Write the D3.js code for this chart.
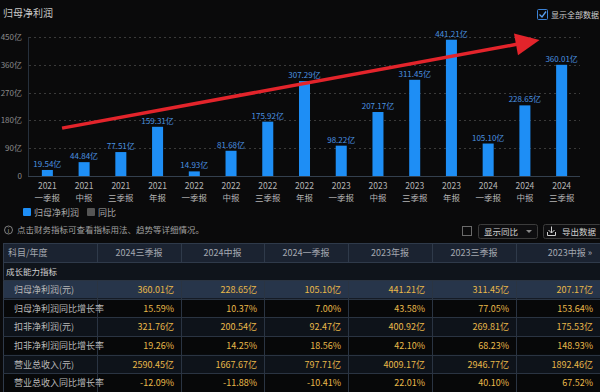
<!DOCTYPE html>
<html><head><meta charset="utf-8">
<script src="https://cdn.jsdelivr.net/npm/d3@7"></script>
<style>
html,body{margin:0;padding:0;background:#0a0a0b;}
svg{display:block;font-family:"Noto Sans CJK SC","Noto Sans",sans-serif;}
</style></head>
<body>
<svg id="c" width="600" height="392"></svg>
<script>
// ---------- data ----------
const years    = ["2021","2021","2021","2021","2022","2022","2022","2022","2023","2023","2023","2023","2024","2024","2024"];
const periods  = ["一季报","中报","三季报","年报","一季报","中报","三季报","年报","一季报","中报","三季报","年报","一季报","中报","三季报"];
const netProfit = [19.54,44.84,77.51,159.31,14.93,81.68,175.92,307.29,98.22,207.17,311.45,441.21,105.10,228.65,360.01];
const yTicks = [0,90,180,270,360,450];
const trendFrom = {i:0.9, v:155};
const trendTo   = {i:13.9, v:440};

const tableHeaders = ["科目/年度","2024三季报","2024中报","2024一季报","2023年报","2023三季报","2023中报 »"];
const groupLabel = "成长能力指标";
const rowLabels = ["归母净利润(元)","归母净利润同比增长率","扣非净利润(元)","扣非净利润同比增长率","营业总收入(元)","营业总收入同比增长率"];
const rowNetProfit   = ["360.01亿","228.65亿","105.10亿","441.21亿","311.45亿","207.17亿"];
const rowNetGrowth   = ["15.59%","10.37%","7.00%","43.58%","77.05%","153.64%"];
const rowDeducted    = ["321.76亿","200.54亿","92.47亿","400.92亿","269.81亿","175.53亿"];
const rowDedGrowth   = ["19.26%","14.25%","18.56%","42.10%","68.23%","148.93%"];
const rowRevenue     = ["2590.45亿","1667.67亿","797.71亿","4009.17亿","2946.77亿","1892.46亿"];
const rowRevGrowth   = ["-12.09%","-11.88%","-10.41%","22.01%","40.10%","67.52%"];
const tableRows = [rowNetProfit,rowNetGrowth,rowDeducted,rowDedGrowth,rowRevenue,rowRevGrowth];

// ---------- chart ----------
const svg = d3.select("#c");
svg.append("rect").attr("width",600).attr("height",392).attr("fill","#0a0a0b");

const x = d3.scaleBand().domain(d3.range(netProfit.length)).range([29,580]).paddingInner(0.7).paddingOuter(0.35);
const xi = d3.scaleLinear().domain([0,netProfit.length]).range([29,580]);
const y = d3.scaleLinear().domain([0,450]).range([176,37]);

svg.append("text").attr("x",3).attr("y",17).attr("fill","#c8c8c8").attr("font-size",10).text("归母净利润");

// top-right checkbox
const cb = svg.append("g");
cb.append("rect").attr("x",537.5).attr("y",9.5).attr("width",10).attr("height",10).attr("rx",1).attr("fill","none").attr("stroke","#3b82d6");
cb.append("path").attr("d","M539.5,14.5 L542,17 L546,11.5").attr("fill","none").attr("stroke","#5aa0f0").attr("stroke-width",1.3);
cb.append("text").attr("x",551).attr("y",18).attr("fill","#d0d0d0").attr("font-size",8).text("显示全部数据");

// grid
svg.append("g").selectAll("line").data(yTicks.filter(d=>d>0)).join("line")
  .attr("x1",29).attr("x2",580).attr("y1",d=>Math.round(y(d))+0.5).attr("y2",d=>Math.round(y(d))+0.5)
  .attr("stroke","#3a3a3a").attr("stroke-dasharray","2,3");
svg.append("line").attr("x1",28.5).attr("x2",28.5).attr("y1",37).attr("y2",176).attr("stroke","#26303c");
svg.append("line").attr("x1",28).attr("x2",580).attr("y1",176.5).attr("y2",176.5).attr("stroke","#34404e");

// y labels
svg.append("g").selectAll("text").data(yTicks).join("text")
  .attr("x",22).attr("y",d=>y(d)+3).attr("text-anchor","end").attr("fill","#8c8c8c").attr("font-size",8)
  .text(d=>d===0?"0":d+"亿");

// bars
svg.append("g").selectAll("rect").data(netProfit).join("rect")
  .attr("x",(d,i)=>x(i)).attr("width",x.bandwidth())
  .attr("y",d=>y(d)).attr("height",d=>y(0)-y(d)).attr("fill","#1e8ef5");
svg.append("g").selectAll("text").data(netProfit).join("text")
  .attr("x",(d,i)=>x(i)+x.bandwidth()/2).attr("y",d=>y(d)-3).attr("text-anchor","middle")
  .attr("fill","#4a92e0").attr("font-size",8).text(d=>d.toFixed(2)+"亿");

// x labels
const xl = svg.append("g").selectAll("g").data(years).join("g")
  .attr("transform",(d,i)=>`translate(${x(i)+x.bandwidth()/2},0)`);
xl.append("text").attr("y",189).attr("text-anchor","middle").attr("fill","#b4b4b4").attr("font-size",8.5).text(d=>d);
xl.append("text").attr("y",200.5).attr("text-anchor","middle").attr("fill","#b4b4b4").attr("font-size",8.5).text((d,i)=>periods[i]);

// red arrow
const ax0 = xi(trendFrom.i), ay0 = y(trendFrom.v), ax1 = xi(trendTo.i), ay1 = y(trendTo.v);
const ang = Math.atan2(ay1-ay0, ax1-ax0);
const hl = 24, hw = 11;
const bx = ax1 - hl*Math.cos(ang), by = ay1 - hl*Math.sin(ang);
svg.append("line").attr("x1",ax0).attr("y1",ay0).attr("x2",bx+2*Math.cos(ang)).attr("y2",by+2*Math.sin(ang))
  .attr("stroke","#e3242b").attr("stroke-width",3.5);
svg.append("path").attr("d",`M${ax1},${ay1} L${bx - hw*Math.sin(ang)},${by + hw*Math.cos(ang)} L${bx + hw*Math.sin(ang)},${by - hw*Math.cos(ang)} Z`)
  .attr("fill","#e3242b");

// legend
svg.append("rect").attr("x",23).attr("y",208).attr("width",8).attr("height",8).attr("rx",1).attr("fill","#1e8ef5");
svg.append("text").attr("x",34).attr("y",215.5).attr("fill","#a8a8a8").attr("font-size",9).text("归母净利润");
svg.append("rect").attr("x",87).attr("y",208).attr("width",8).attr("height",8).attr("rx",1).attr("fill","#555");
svg.append("text").attr("x",98).attr("y",215.5).attr("fill","#a8a8a8").attr("font-size",9).text("同比");

// info line
svg.append("circle").attr("cx",8.5).attr("cy",230).attr("r",4).attr("fill","none").attr("stroke","#9a9a9a").attr("stroke-width",0.8);
svg.append("text").attr("x",8.5).attr("y",232.5).attr("text-anchor","middle").attr("fill","#9a9a9a").attr("font-size",6.5).text("i");
svg.append("text").attr("x",17).attr("y",233).attr("fill","#a0a0a0").attr("font-size",8.5).text("点击财务指标可查看指标用法、趋势等详细情况。");

// controls
svg.append("rect").attr("x",462.5).attr("y",226.5).attr("width",9).attr("height",9).attr("fill","none").attr("stroke","#6a6a6a");
svg.append("rect").attr("x",478.5).attr("y",224.5).attr("width",59).attr("height",14).attr("rx",2).attr("fill","#0e0e10").attr("stroke","#3c3c3c");
svg.append("text").attr("x",484).attr("y",235).attr("fill","#d0d0d0").attr("font-size",8.5).text("显示同比");
svg.append("path").attr("d","M526,230 L532,230 L529,233 Z").attr("fill","#888");
svg.append("rect").attr("x",543.5).attr("y",224.5).attr("width",58).attr("height",14).attr("rx",2).attr("fill","#0e0e10").attr("stroke","#3c3c3c");
svg.append("path").attr("d","M551.5,226.5 L551.5,233 M548.5,230 L551.5,233 L554.5,230 M547.5,232 L547.5,235.5 L555.5,235.5 L555.5,232")
  .attr("fill","none").attr("stroke","#d0d0d0").attr("stroke-width",1);
svg.append("text").attr("x",562).attr("y",235).attr("fill","#d0d0d0").attr("font-size",8.5).text("导出数据");

// ---------- table ----------
const colEdges = [3,97,181,264,348,432,516,600];
const hdrY = 243, hdrH = 19, grpH = 18;
const rowY0 = hdrY + hdrH + grpH;
const rowH = (392 - rowY0) / tableRows.length;
const tbl = svg.append("g");
tbl.append("rect").attr("x",3).attr("y",hdrY).attr("width",597).attr("height",hdrH).attr("fill","#1b2331");
tbl.append("rect").attr("x",3).attr("y",hdrY+hdrH).attr("width",597).attr("height",grpH).attr("fill","#0f141b");
tbl.selectAll(".rowbg").data(tableRows).join("rect")
  .attr("x",3).attr("y",(d,i)=>rowY0+i*rowH).attr("width",597).attr("height",rowH)
  .attr("fill",(d,i)=>i===0?"#27354a":(i%2===0?"#0e131a":"#070809"));
// borders
tbl.append("rect").attr("x",3.5).attr("y",hdrY+0.5).attr("width",597).attr("height",392-hdrY).attr("fill","none").attr("stroke","#2f3a4a");
tbl.append("line").attr("x1",3).attr("x2",600).attr("y1",hdrY+hdrH+0.5).attr("y2",hdrY+hdrH+0.5).attr("stroke","#2f3a4a");
tbl.selectAll(".hl").data(tableRows).join("line")
  .attr("x1",3).attr("x2",600).attr("y1",(d,i)=>Math.round(rowY0+i*rowH)+0.5).attr("y2",(d,i)=>Math.round(rowY0+i*rowH)+0.5)
  .attr("stroke","#2a3442");
tbl.selectAll(".vh").data(colEdges.slice(1,-1)).join("line")
  .attr("x1",d=>d+0.5).attr("x2",d=>d+0.5).attr("y1",hdrY).attr("y2",hdrY+hdrH).attr("stroke","#2f3a4a");
tbl.selectAll(".vb").data(colEdges.slice(1,-1)).join("line")
  .attr("x1",d=>d+0.5).attr("x2",d=>d+0.5).attr("y1",rowY0).attr("y2",392).attr("stroke","#2a3442");
// header text
tbl.selectAll(".ht").data(tableHeaders).join("text")
  .attr("x",(d,i)=>i===0?8:(i===tableHeaders.length-1?colEdges[i+1]-8:(colEdges[i]+colEdges[i+1])/2))
  .attr("y",hdrY+13).attr("text-anchor",(d,i)=>i===0?"start":(i===tableHeaders.length-1?"end":"middle"))
  .attr("fill","#a4a8b0").attr("font-size",9).text(d=>d);
tbl.append("text").attr("x",6).attr("y",hdrY+hdrH+12.5).attr("fill","#cfcfcf").attr("font-size",8.5).text(groupLabel);
// row labels
tbl.selectAll(".rl").data(rowLabels).join("text")
  .attr("x",14).attr("y",(d,i)=>rowY0+i*rowH+rowH/2+3.5).attr("fill","#b8b8b8").attr("font-size",9).text(d=>d);
// values
tableRows.forEach((row,ri)=>{
  tbl.append("g").selectAll("text").data(row).join("text")
    .attr("x",(d,ci)=>colEdges[ci+2]-7).attr("y",rowY0+ri*rowH+rowH/2+3.5)
    .attr("text-anchor","end").attr("fill","#e9b949").attr("font-size",9).text(d=>d);
});
</script>
</body></html>
